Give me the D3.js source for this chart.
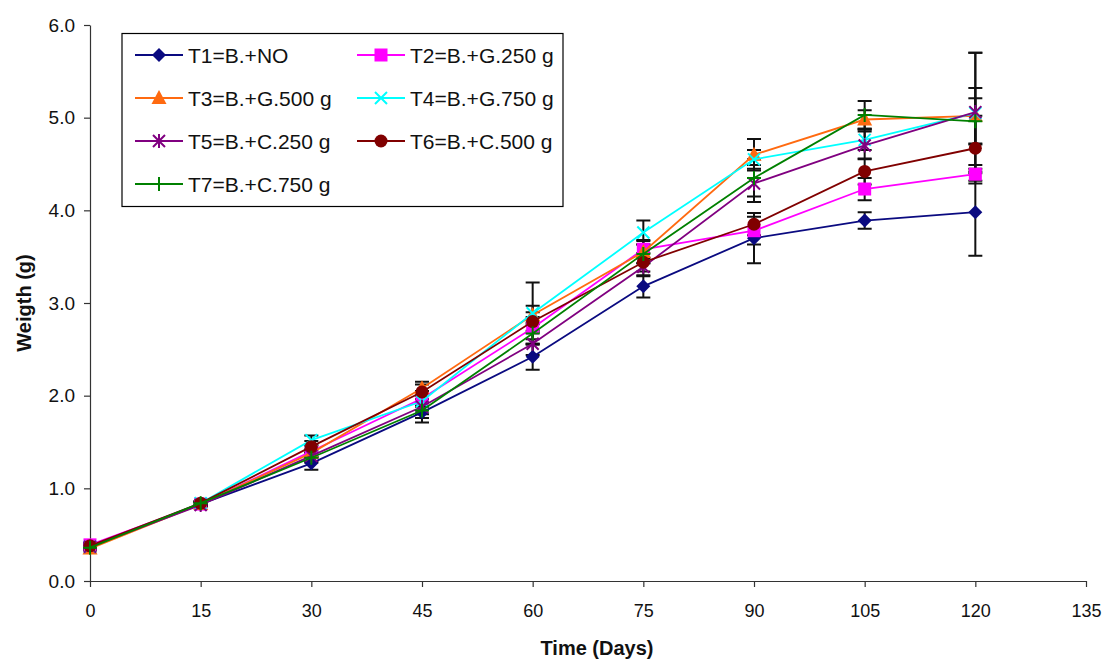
<!DOCTYPE html>
<html lang="en">
<head>
    <meta charset="UTF-8">
    <title>Weigth over time</title>
    <script src="https://cdn.jsdelivr.net/npm/d3@7"></script>
    <style>
        body { margin: 0; background: #fff; }
        text { font-family: "Liberation Sans", Arial, sans-serif; }
    </style>
</head>
<body>
    <script>
        // data
        let days = [0, 15, 30, 45, 60, 75, 90, 105, 120];
        let names = ['T1=B.+NO', 'T2=B.+G.250 g', 'T3=B.+G.500 g', 'T4=B.+G.750 g',
                     'T5=B.+C.250 g', 'T6=B.+C.500 g', 'T7=B.+C.750 g'];
        let t1 = [0.37, 0.83, 1.27, 1.82, 2.42, 3.18, 3.70, 3.89, 3.98];
        let t2 = [0.39, 0.83, 1.40, 1.97, 2.73, 3.58, 3.78, 4.23, 4.39];
        let t3 = [0.35, 0.83, 1.38, 2.08, 2.87, 3.55, 4.60, 4.98, 5.02];
        let t4 = [0.37, 0.84, 1.52, 1.94, 2.89, 3.76, 4.55, 4.76, 5.05];
        let t5 = [0.37, 0.82, 1.35, 1.88, 2.56, 3.39, 4.29, 4.70, 5.06];
        let t6 = [0.38, 0.84, 1.45, 2.04, 2.80, 3.44, 3.85, 4.42, 4.67];
        let t7 = [0.36, 0.84, 1.33, 1.84, 2.67, 3.53, 4.35, 5.03, 4.96];
        // error bar half-lengths
        let sd1 = [0.02, 0.02, 0.07, 0.11, 0.14, 0.12, 0.27, 0.09, 0.47];
        let sd2 = [0.02, 0.02, 0.06, 0.08, 0.12, 0.10, 0.15, 0.12, 0.10];
        let sd3 = [0.02, 0.02, 0.05, 0.07, 0.10, 0.12, 0.17, 0.10, 0.30];
        let sd4 = [0.02, 0.02, 0.05, 0.06, 0.33, 0.13, 0.10, 0.11, 0.65];
        let sd5 = [0.02, 0.02, 0.06, 0.08, 0.12, 0.10, 0.20, 0.15, 0.64];
        let sd6 = [0.02, 0.02, 0.06, 0.08, 0.10, 0.10, 0.12, 0.14, 0.35];
        let sd7 = [0.02, 0.02, 0.05, 0.08, 0.12, 0.10, 0.20, 0.15, 0.25];
        let xTicks = [0, 15, 30, 45, 60, 75, 90, 105, 120, 135];
        let yTicks = [0, 1, 2, 3, 4, 5, 6];

        let colors = ['#0a0a80', '#ff00ff', '#ff6a10', '#00ffff', '#800080', '#800000', '#008000'];
        let shapes = ['diamond', 'square', 'triangle', 'x', 'star', 'circle', 'plus'];
        let values = [t1, t2, t3, t4, t5, t6, t7];
        let sds = [sd1, sd2, sd3, sd4, sd5, sd6, sd7];

        let width = 1109,
            height = 659,
            padding = { top: 25, left: 90, bottom: 78, right: 23 };

        let svg = d3.select('body').append('svg').attr('width', width).attr('height', height);

        let x = d3.scaleLinear().domain([0, 135]).range([padding.left, width - padding.right]);
        let y = d3.scaleLinear().domain([0, 6]).range([height - padding.bottom, padding.top]);

        // axes
        let xAxis = svg.append('g')
            .attr('transform', 'translate(0,' + y(0) + ')')
            .call(d3.axisBottom(x).tickValues(xTicks).tickSize(6).tickPadding(17).tickSizeOuter(0));
        let yAxis = svg.append('g')
            .attr('transform', 'translate(' + x(0) + ',0)')
            .call(d3.axisLeft(y).tickValues(yTicks).tickFormat(d3.format('.1f')).tickSize(6).tickPadding(9).tickSizeOuter(0));
        svg.selectAll('.domain, .tick line').attr('stroke', '#333').attr('stroke-width', 1.2);
        xAxis.selectAll('text').attr('font-size', 18).attr('fill', '#111')
            .attr('font-family', '"Liberation Sans", Arial, sans-serif');
        yAxis.selectAll('text').attr('font-size', 19).attr('fill', '#111')
            .attr('font-family', '"Liberation Sans", Arial, sans-serif');

        svg.append('text')
            .attr('x', (x(0) + x(135)) / 2 + 9)
            .attr('y', 655)
            .attr('text-anchor', 'middle')
            .attr('font-size', 20)
            .attr('font-weight', 'bold')
            .attr('fill', '#111')
            .text('Time (Days)');
        svg.append('text')
            .attr('transform', 'translate(31,' + y(3) + ') rotate(-90)')
            .attr('text-anchor', 'middle')
            .attr('font-size', 20)
            .attr('font-weight', 'bold')
            .attr('fill', '#111')
            .text('Weigth (g)');

        // marker drawing
        function marker(g, shape, color, cx, cy) {
            let s = 7;
            if (shape === 'diamond') {
                g.append('path').attr('d', `M${cx},${cy - s}L${cx + s},${cy}L${cx},${cy + s}L${cx - s},${cy}Z`).attr('fill', color);
            } else if (shape === 'square') {
                g.append('rect').attr('x', cx - 6.5).attr('y', cy - 6.5).attr('width', 13).attr('height', 13).attr('fill', color);
            } else if (shape === 'triangle') {
                g.append('path').attr('d', `M${cx},${cy - 8}L${cx + 7.5},${cy + 6}L${cx - 7.5},${cy + 6}Z`).attr('fill', color);
            } else if (shape === 'circle') {
                g.append('circle').attr('cx', cx).attr('cy', cy).attr('r', 6.5).attr('fill', color);
            } else if (shape === 'x') {
                g.append('path').attr('d', `M${cx - 6},${cy - 6}L${cx + 6},${cy + 6}M${cx - 6},${cy + 6}L${cx + 6},${cy - 6}`)
                    .attr('stroke', color).attr('stroke-width', 2);
            } else if (shape === 'star') {
                g.append('path').attr('d', `M${cx - 6},${cy - 6}L${cx + 6},${cy + 6}M${cx - 6},${cy + 6}L${cx + 6},${cy - 6}M${cx},${cy - 7}L${cx},${cy + 7}`)
                    .attr('stroke', color).attr('stroke-width', 2);
            } else if (shape === 'plus') {
                g.append('path').attr('d', `M${cx - 7},${cy}L${cx + 7},${cy}M${cx},${cy - 7}L${cx},${cy + 7}`)
                    .attr('stroke', color).attr('stroke-width', 2);
            }
        }

        // error bars
        let errG = svg.append('g');
        values.forEach((vals, k) => {
            vals.forEach((v, i) => {
                let cx = x(days[i]), lo = y(v - sds[k][i]), hi = y(v + sds[k][i]);
                errG.append('path')
                    .attr('d', `M${cx},${lo}L${cx},${hi}M${cx - 7},${lo}L${cx + 7},${lo}M${cx - 7},${hi}L${cx + 7},${hi}`)
                    .attr('stroke', '#111').attr('stroke-width', 2).attr('fill', 'none');
            });
        });

        // lines and markers
        let line = d3.line().x((d, i) => x(days[i])).y(d => y(d));
        values.forEach((vals, k) => {
            let g = svg.append('g');
            g.append('path').datum(vals).attr('d', line)
                .attr('fill', 'none').attr('stroke', colors[k]).attr('stroke-width', 1.8);
            vals.forEach((v, i) => marker(g, shapes[k], colors[k], x(days[i]), y(v)));
        });

        // legend
        let legend = svg.append('g');
        legend.append('rect').attr('x', 122).attr('y', 33.5).attr('width', 441).attr('height', 173)
            .attr('fill', '#fff').attr('stroke', '#000').attr('stroke-width', 1.2);
        names.forEach((n, k) => {
            let col = k % 2, row = Math.floor(k / 2);
            let lx = col === 0 ? 135 : 357, ly = 55 + row * 43;
            legend.append('line').attr('x1', lx).attr('x2', lx + 48).attr('y1', ly).attr('y2', ly)
                .attr('stroke', colors[k]).attr('stroke-width', 1.8);
            marker(legend, shapes[k], colors[k], lx + 24, ly);
            legend.append('text').attr('x', lx + 53).attr('y', ly + 7.5)
                .attr('font-size', 21).attr('fill', '#111').text(n);
        });
    </script>
</body>
</html>
